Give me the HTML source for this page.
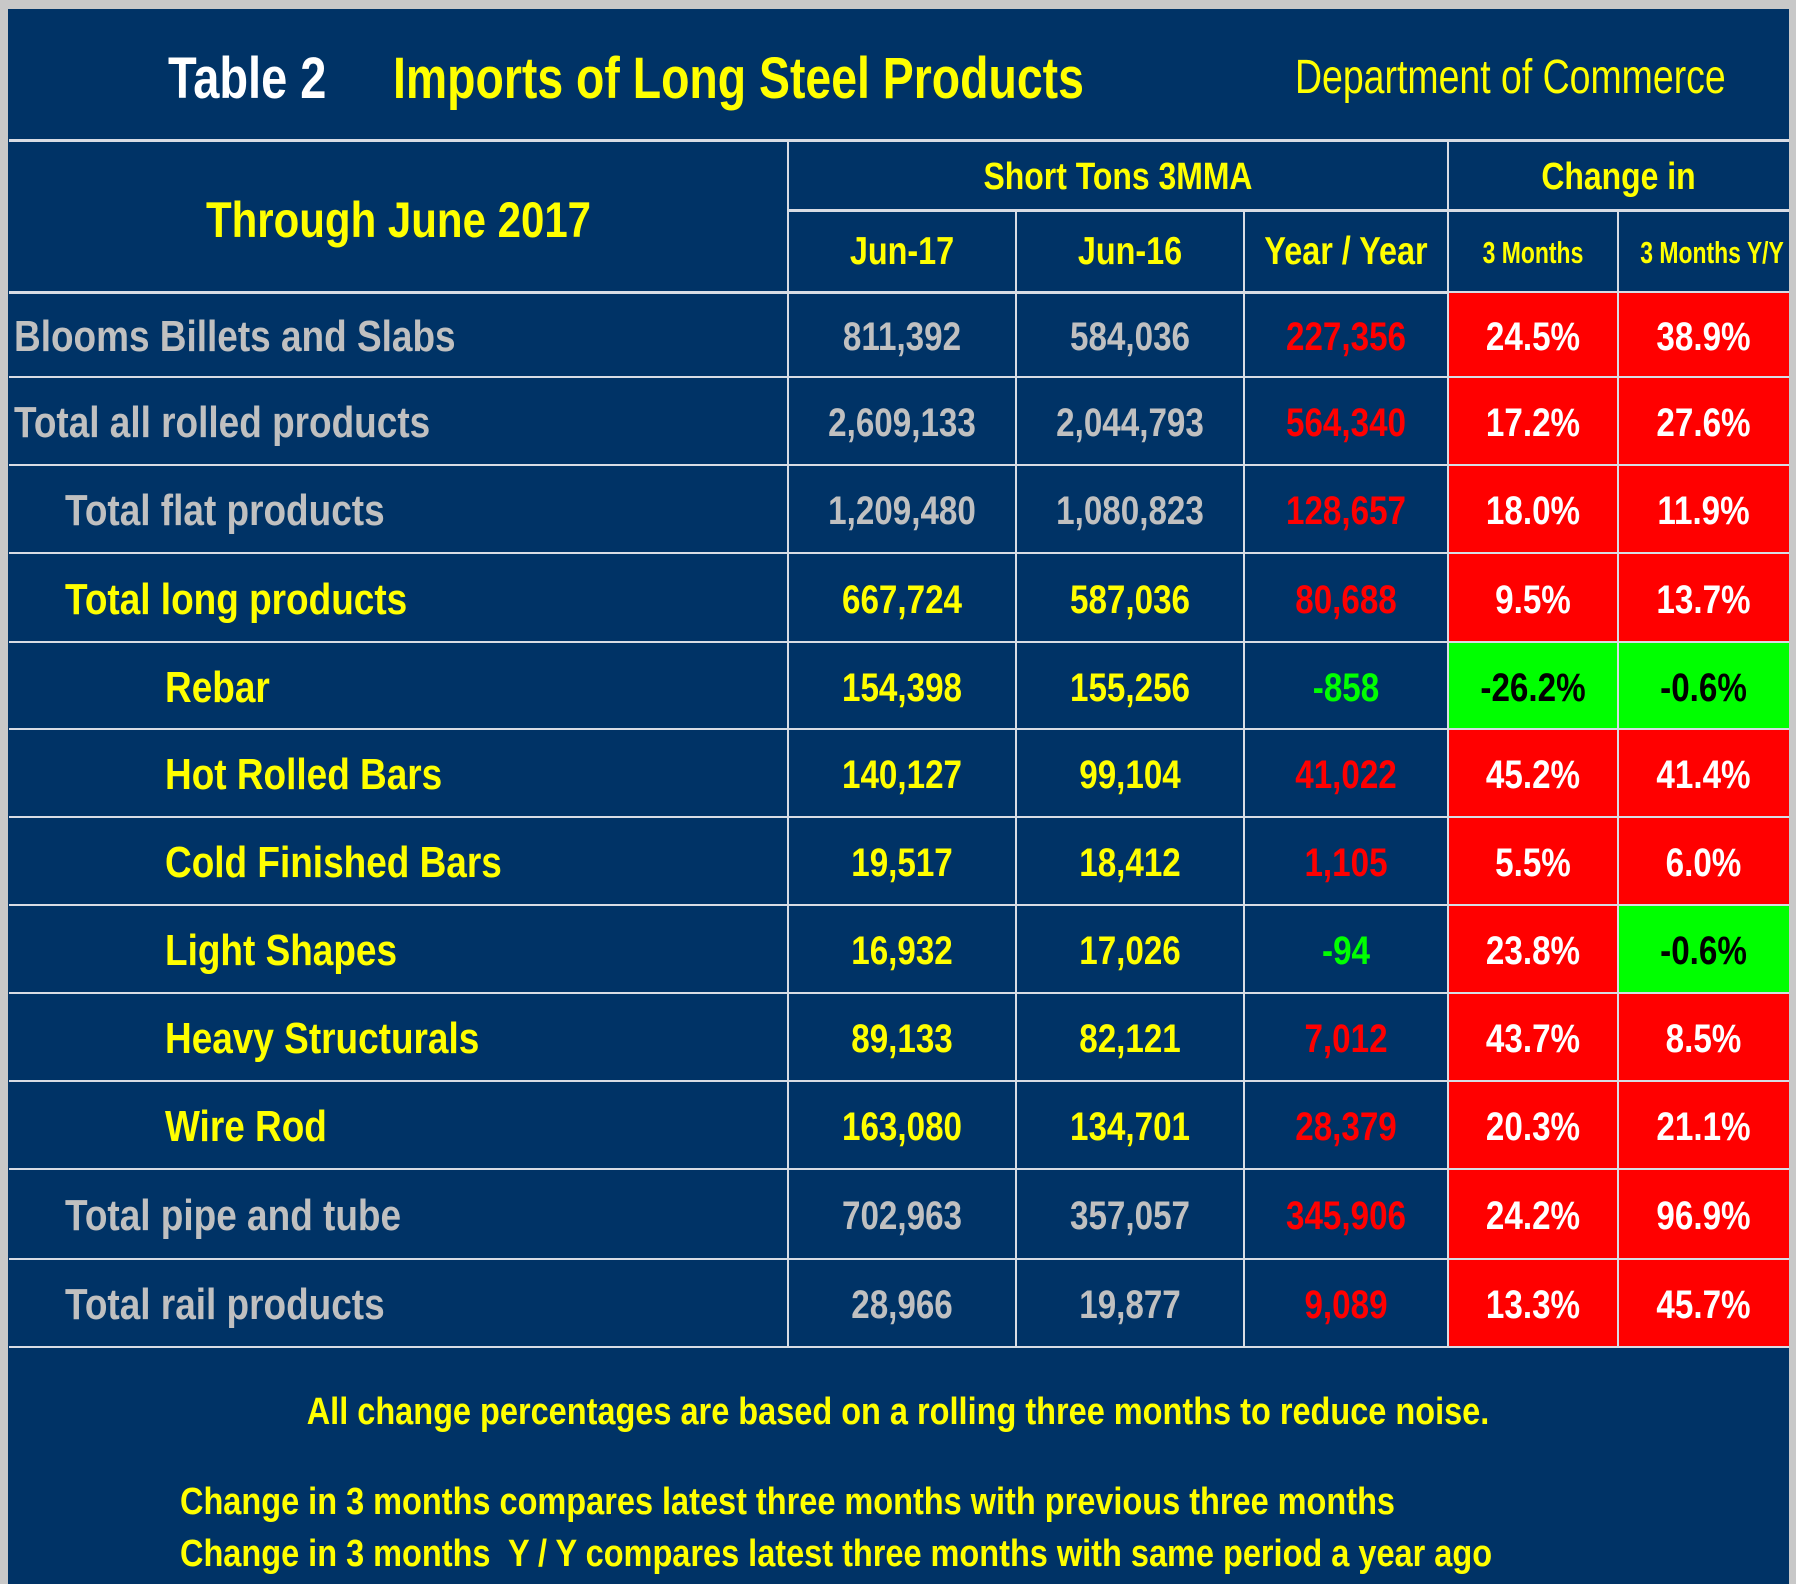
<!DOCTYPE html>
<html><head><meta charset="utf-8">
<style>
html,body{margin:0;padding:0;background:#c8c8c8;}
#page{position:relative;width:1796px;height:1584px;overflow:hidden;background:#c8c8c8;font-family:"Liberation Sans Narrow","Liberation Sans",sans-serif;font-weight:bold;}
#panel{position:absolute;left:8px;top:9px;width:1781px;height:1575px;background:#003366;}
.t{position:absolute;white-space:nowrap;line-height:1;}
.hl{position:absolute;background:#d8dce4;}
.cell{position:absolute;}
</style></head>
<body>
<div id="page">
<div id="panel"></div>
<div class="t" style="left:168px;top:50px;font-size:58px;color:#fff;transform:scaleX(0.81);transform-origin:left;">Table 2</div>
<div class="t" style="left:393px;top:50px;font-size:58px;color:#ffff00;transform:scaleX(0.8);transform-origin:left;">Imports of Long Steel Products</div>
<div class="t" style="left:1295px;top:54px;font-size:48px;font-weight:normal;color:#ffff00;transform:scaleX(0.78);transform-origin:left;">Department of Commerce</div>
<div class="t" style="left:9px;width:779px;text-align:center;top:195px;font-size:50px;color:#ffff00;transform:scaleX(0.84);">Through June 2017</div>
<div class="t" style="left:788px;width:660px;text-align:center;top:158px;font-size:38px;color:#ffff00;transform:scaleX(0.84);">Short Tons 3MMA</div>
<div class="t" style="left:1448px;width:341px;text-align:center;top:158px;font-size:38px;color:#ffff00;transform:scaleX(0.84);">Change in</div>
<div class="t" style="left:0;width:1796px;text-align:center;top:1393px;font-size:38px;color:#ffff00;transform:scaleX(0.855);">All change percentages are based on a rolling three months to reduce noise.</div>
<div class="t" style="left:180px;top:1483px;font-size:38px;color:#ffff00;transform:scaleX(0.855);transform-origin:left;">Change in 3 months compares latest three months with previous three months</div>
<div class="t" style="left:180px;top:1535px;font-size:38px;color:#ffff00;transform:scaleX(0.855);transform-origin:left;">Change in 3 months&nbsp; Y / Y compares latest three months with same period a year ago</div>
</div>
<script>
const colHeaders=["Jun-17","Jun-16","Year / Year","3 Months","3 Months Y/Y"];
const rowLabels=["Blooms Billets and Slabs","Total all rolled products","Total flat products","Total long products","Rebar","Hot Rolled Bars","Cold Finished Bars","Light Shapes","Heavy Structurals","Wire Rod","Total pipe and tube","Total rail products"];
const rowLevels=[0,0,1,1,2,2,2,2,2,2,1,1];
const jun17=["811,392","2,609,133","1,209,480","667,724","154,398","140,127","19,517","16,932","89,133","163,080","702,963","28,966"];
const jun16=["584,036","2,044,793","1,080,823","587,036","155,256","99,104","18,412","17,026","82,121","134,701","357,057","19,877"];
const yoy=["227,356","564,340","128,657","80,688","-858","41,022","1,105","-94","7,012","28,379","345,906","9,089"];
const chg3=["24.5%","17.2%","18.0%","9.5%","-26.2%","45.2%","5.5%","23.8%","43.7%","20.3%","24.2%","13.3%"];
const chg3yy=["38.9%","27.6%","11.9%","13.7%","-0.6%","41.4%","6.0%","-0.6%","8.5%","21.1%","96.9%","45.7%"];

const page=document.getElementById('page');
const colX=[9,788,1016,1244,1448,1618,1789];
const rowTop=[293,377,465,553,642,729,817,905,993,1081,1169,1259,1347];
const indent=[14,65,165];
const K=0.83;
function add(tag,cls,style,txt){const e=document.createElement(tag);e.className=cls;e.style.cssText=style;if(txt!==undefined)e.textContent=txt;page.appendChild(e);return e;}
let e;
e=add('div','hl','left:9px;top:139px;width:1780px;height:3px;');


e=add('div','hl','left:788px;top:209px;width:1001px;height:3px;');


e=add('div','hl','left:9px;top:291px;width:1780px;height:3px;');


colHeaders.forEach((h,i)=>{
  const small=i>=3;
  e=add('div','t','left:'+colX[i+1]+'px;width:'+(colX[i+2]-colX[i+1])+'px;text-align:center;top:'+(small?237:232)+'px;font-size:'+(small?31:39)+'px;color:#ffff00;transform:scaleX('+(small?0.74:K)+');',h);
  
  
});
function isNeg(s){return s.trim().startsWith('-');}
for(let r=0;r<rowLabels.length;r++){
  const y0=rowTop[r],y1=rowTop[r+1];
  [chg3,chg3yy].forEach((arr,k)=>{
    const c=4+k;
    e=add('div','cell','left:'+colX[c]+'px;top:'+y0+'px;width:'+(colX[c+1]-colX[c])+'px;height:'+(y1-y0)+'px;background:'+(isNeg(arr[r])?'#00ff00':'#ff0000')+';');
    
    
  });
}
for(let r=1;r<rowLabels.length;r++){
  e=add('div','hl','left:9px;top:'+(rowTop[r]-1)+'px;width:1780px;height:2px;');
  
  
}
e=add('div','hl','left:9px;top:'+(rowTop[12]-1)+'px;width:1780px;height:2px;');


[1,2,3,4,5].forEach(c=>{
  const top=(c===1||c===4)?139:209;
  e=add('div','hl','left:'+(colX[c]-1)+'px;top:'+top+'px;width:2px;height:'+(rowTop[12]-top)+'px;');
  
  
});
for(let r=0;r<rowLabels.length;r++){
  const y0=rowTop[r],h=rowTop[r+1]-rowTop[r];
  const lvl=rowLevels[r];
  const yellow=(r>=3&&r<=9);
  const tc=yellow?'#ffff00':'#c0c0c0';
  e=add('div','t','left:'+indent[lvl]+'px;top:'+(y0+h/2-20)+'px;font-size:44px;color:'+tc+';transform:scaleX(0.84);transform-origin:left;',rowLabels[r]);
  
  
  const vals=[jun17[r],jun16[r],yoy[r],chg3[r],chg3yy[r]];
  vals.forEach((v,i)=>{
    let col=tc;
    if(i===2) col=isNeg(v)?'#00ff00':'#ff0000';
    if(i>=3) col=isNeg(v)?'#000':'#fff';
    e=add('div','t','left:'+colX[i+1]+'px;width:'+(colX[i+2]-colX[i+1])+'px;text-align:center;top:'+(y0+h/2-18)+'px;font-size:40px;color:'+col+';transform:scaleX('+K+');',v);
    
    
  });
}
</script>
</body></html>
